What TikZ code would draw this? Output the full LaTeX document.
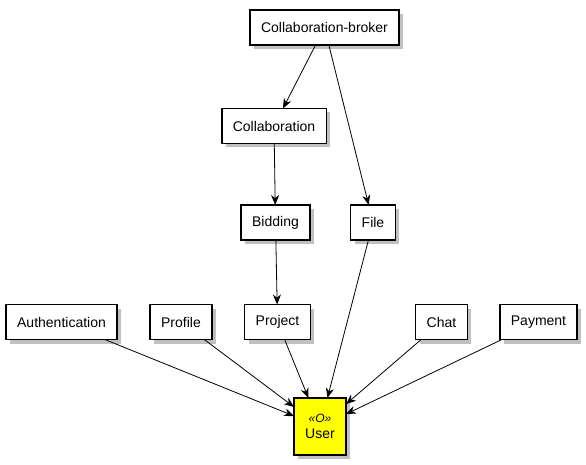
\documentclass[tikz,border=0pt]{standalone}
\usepackage{fontspec}
\usepackage{xcolor}
\usetikzlibrary{arrows.meta,shadows}
\setmainfont{Liberation Sans}
\definecolor{userfill}{RGB}{255, 255, 0}
\definecolor{shadowgray}{RGB}{150, 150, 150}

\begin{document}
\begin{tikzpicture}[
    x=1pt, y=-1pt,
    box/.style={rectangle, draw, line width=1.5pt, fill=white, minimum height=35pt, inner xsep=11pt, outer sep=0pt, font=\fontsize{14}{16}\selectfont, drop shadow={shadow xshift=4pt, shadow yshift=-4pt, fill=shadowgray, opacity=0.6}},
    user/.style={box, fill=userfill, minimum width=52pt, minimum height=57pt, inner xsep=4pt, align=center},
    arrow/.style={-{Stealth[length=10pt, width=8pt]}, line width=0.8pt}
]

% Background
\useasboundingbox (0,0) rectangle (586,465);
\fill[white] (0,0) rectangle (586,465);

% Upper nodes
\node[box] (broker) at (324.5,27.5) {Collaboration-broker};
\node[box] (collab) at (274,126) {Collaboration};
\node[box] (bidding) at (275.5,222.5) {Bidding};
\node[box] (file) at (373,222.5) {File};

% Row of modules
\node[box] (auth) at (61.5,322) {Authentication};
\node[box] (profile) at (181,322) {Profile};
\node[box] (project) at (277.5,322) {Project};
\node[box] (chat) at (441.5,322) {Chat};
\node[box] (payment) at (538.5,322) {Payment};

% User
\node[user] (user) at (320,426.5) {{\fontsize{12}{14}\selectfont\itshape «O»}\\User};

% Connections
\draw[arrow] (broker) -- (collab);
\draw[arrow] (broker) -- (file);
\draw[arrow] (collab) -- (bidding);
\draw[arrow] (bidding) -- (project);

\draw[arrow] (auth) -- (user);
\draw[arrow] (profile) -- (user);
\draw[arrow] (project) -- (user);
\draw[arrow] (file) -- (user);
\draw[arrow] (chat) -- (user);
\draw[arrow] (payment) -- (user);

\end{tikzpicture}
\end{document}
